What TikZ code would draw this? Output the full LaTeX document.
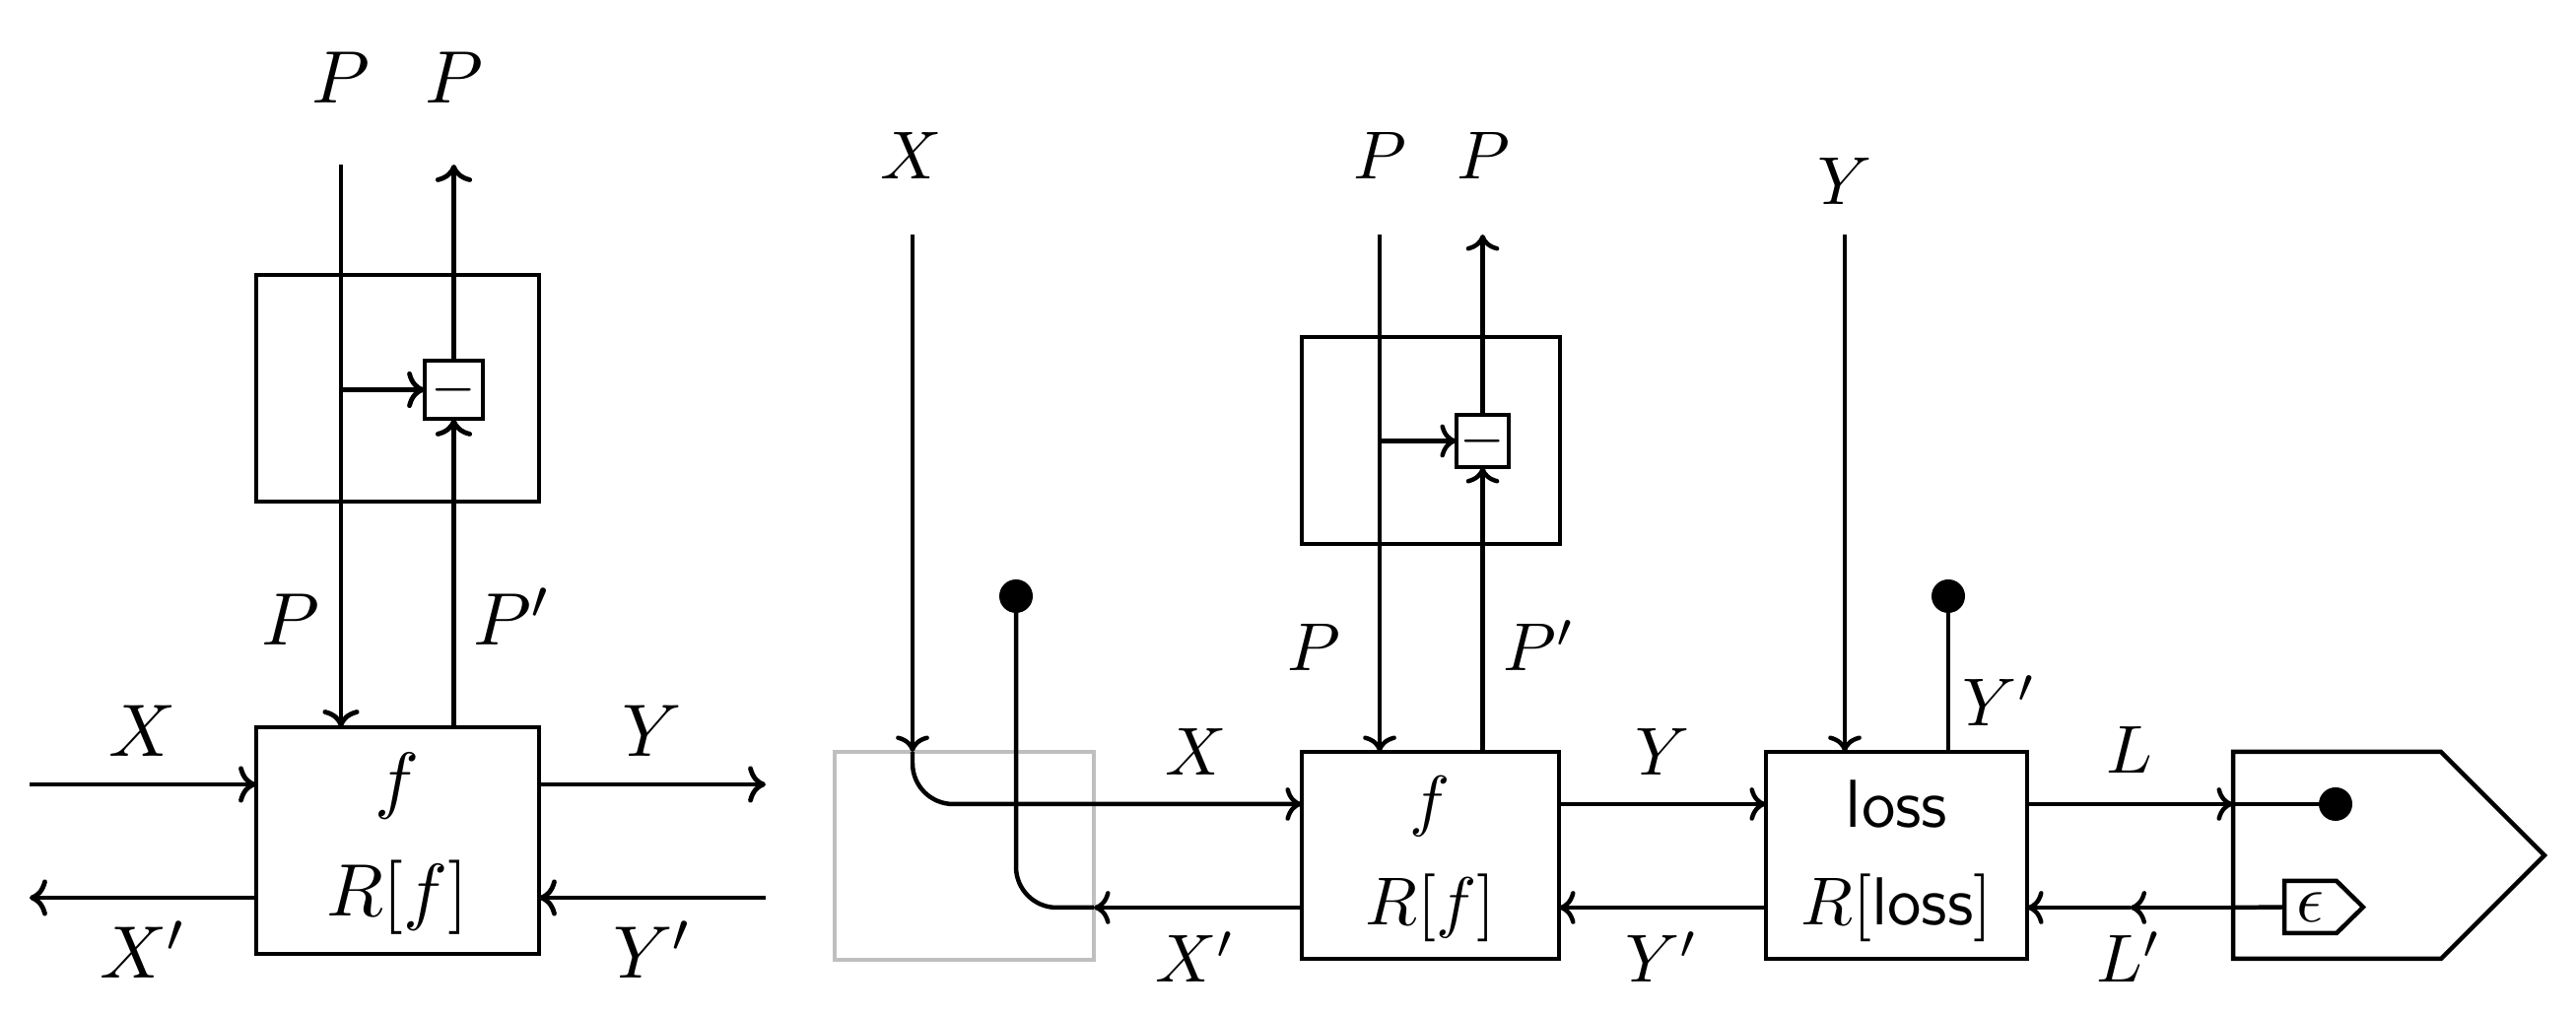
\documentclass[tikz,border=0pt]{standalone}
\usetikzlibrary{arrows.meta,calc}
\newcommand\pxu[1]{#1*0.1453pt}
\tikzset{
  wire/.style={line width=0.65pt},
  arr/.style={wire,-{Computer Modern Rightarrow[width=4.9pt,length=2.4pt]}},
  box/.style={draw,line width=0.65pt,inner sep=0pt,outer sep=0pt},
  greybox/.style={draw=black!25,line width=0.65pt,inner sep=0pt,outer sep=0pt},
  lbl/.style={inner sep=0pt,anchor=base},
  txt/.style={inner sep=0pt},
  blob/.style={circle,fill,inner sep=0pt,minimum size=4.94pt},
  ghost/.style={inner sep=0pt,outer sep=0pt},
}
\begin{document}
\begin{tikzpicture}[x=0.1453pt,y=-0.1453pt]
\useasboundingbox (0,0) rectangle (2614,1030);
% ---------------- left diagram ----------------
\begin{scope}[wire/.style={line width=0.7pt},
  arr/.style={wire,-{Computer Modern Rightarrow[width=5.4pt,length=2.6pt]}},
  box/.style={draw,line width=0.7pt,inner sep=0pt,outer sep=0pt},
  every node/.append style={font=\fontsize{10.95}{13}\selectfont}]
\node[box,minimum width={\pxu{287}},minimum height={\pxu{230}}] (fL) at (403.5,853) {};
\node[box,minimum width={\pxu{287}},minimum height={\pxu{230}}] (tL) at (403.5,394) {};
\node[box,minimum width={\pxu{59}},minimum height={\pxu{59}}] (mL) at (460.5,395.5) {\fontsize{8.5}{9}\selectfont$-$};
\node[txt] (fLa) at (403.5,798) {$f$};
\node[txt] (fLb) at (403.5,911) {$R[f]$};
\coordinate (pinL) at (346,167);
\coordinate (r1L) at (0,796);
\coordinate (r2L) at (0,911);
\coordinate (xinL) at (30,796);
\coordinate (xoutL) at (30,911);
\coordinate (youtL) at (777,796);
\coordinate (yinL) at (777,911);
\draw[arr] (pinL) -- (pinL |- fL.north);
\draw[arr] (pinL |- mL) -- (mL.west);
\draw[arr] (fL.north -| mL) -- (mL.south);
\draw[arr] (mL.north) -- (mL |- pinL);
\draw[arr] (xinL) -- (xinL -| fL.west);
\draw[arr] (xoutL -| fL.west) -- (xoutL);
\draw[arr] (youtL -| fL.east) -- (youtL);
\draw[arr] (yinL) -- (yinL -| fL.east);
\node[lbl] (lP1) at (346,105) {$P$};
\node[lbl] (lP2) at (460.5,105) {$P$};
\node[lbl] (lP3) at (295,655) {$P$};
\node[lbl] (lP4) at (520,655) {$P'$};
\node[lbl] (lX) at (145,768) {$X$};
\node[lbl] (lXp) at (145,993) {$X'$};
\node[lbl] (lY) at (662,768) {$Y$};
\node[lbl] (lYp) at (662,993) {$Y'$};
\end{scope}
% ---------------- right diagram ----------------
\coordinate (r1) at (0,816);
\coordinate (r2) at (0,921);
\node[greybox,minimum width={\pxu{263}},minimum height={\pxu{211}}] (gb) at (978.5,868.5) {};
\node[box,minimum width={\pxu{261}},minimum height={\pxu{210}}] (f2) at (1451.5,868) {};
\node[box,minimum width={\pxu{262}},minimum height={\pxu{210}}] (t2) at (1452,447) {};
\node[box,minimum width={\pxu{53}},minimum height={\pxu{53}}] (m2) at (1504.5,447.5) {\fontsize{7.6}{8}\selectfont$-$};
\node[box,minimum width={\pxu{265}},minimum height={\pxu{210}}] (loss) at (1924.5,868) {};
\node[txt] (f2a) at (1451.5,818) {$f$};
\node[txt] (f2b) at (1451.5,921) {$R[f]$};
\node[txt] (lossa) at (1924.5,816) {\textsf{loss}};
\node[txt] (lossb) at (1924.5,921) {$R[\textsf{loss}]$};
% target pentagon
\node[ghost,minimum width={\pxu{211}},minimum height={\pxu{210}}] (tgt) at (2371.5,868) {};
\draw[wire,line join=miter] (tgt.north west) -- (tgt.north east) -- (2582,868) -- (tgt.south east) -- (tgt.south west) -- cycle;
\node[ghost,minimum width={\pxu{53}},minimum height={\pxu{53}}] (eps) at (2344.5,920.5) {$\epsilon$};
\draw[wire,line join=miter] (eps.north west) -- (eps.north east) -- (2398,920.5) -- (eps.south east) -- (eps.south west) -- cycle;
\node[blob] (d1) at (1031,605) {};
\node[blob] (d2) at (1977,605) {};
\node[blob] (d3) at (2370,816) {};
% connectors
\coordinate (xin) at (926,238);
\coordinate (pin) at (1400,238);
\coordinate (yin) at (1872,238);
\draw[arr] (xin) -- (xin |- gb.north);
\draw[arr,rounded corners=6pt] (xin |- gb.north) |- (f2.west |- r1);
\draw[arr] (f2.west |- r2) -- (gb.east |- r2);
\draw[wire,rounded corners=6pt] (gb.east |- r2) -| (d1.center);
\draw[arr] (pin) -- (pin |- f2.north);
\draw[arr] (pin |- m2) -- (m2.west);
\draw[arr] (f2.north -| m2) -- (m2.south);
\draw[arr] (m2.north) -- (m2 |- pin);
\draw[arr] (f2.east |- r1) -- (loss.west |- r1);
\draw[arr] (loss.west |- r2) -- (f2.east |- r2);
\draw[arr] (yin) -- (yin |- loss.north);
\draw[wire] (loss.north -| d2) -- (d2.center);
\draw[arr] (loss.east |- r1) -- (tgt.west |- r1);
\draw[wire] (tgt.west |- r1) -- (d3.center);
\coordinate (lmid) at ($(tgt.west |- r2)!0.5!(loss.east |- r2)$);
\draw[wire] (eps.west) -- (tgt.west |- r2);
\draw[arr] (tgt.west |- r2) -- (lmid);
\draw[arr] (lmid) -- (loss.east |- r2);
% labels
\node[lbl] (tX) at (925,182) {$X$};
\node[lbl] (tP1) at (1400,182) {$P$};
\node[lbl] (tP2) at (1505,182) {$P$};
\node[lbl] (tY) at (1872,208) {$Y$};
\node[lbl] (sP) at (1333,681) {$P$};
\node[lbl] (sPp) at (1562,681) {$P'$};
\node[lbl] (sX) at (1214,787) {$X$};
\node[lbl] (sXp) at (1213,997) {$X'$};
\node[lbl] (sY) at (1687,787) {$Y$};
\node[lbl] (sYp) at (1687,997) {$Y'$};
\node[lbl] (sYd) at (2029,737) {$Y'$};
\node[lbl] (sL) at (2161,785) {$L$};
\node[lbl] (sLp) at (2161,997) {$L'$};
\end{tikzpicture}
\end{document}
